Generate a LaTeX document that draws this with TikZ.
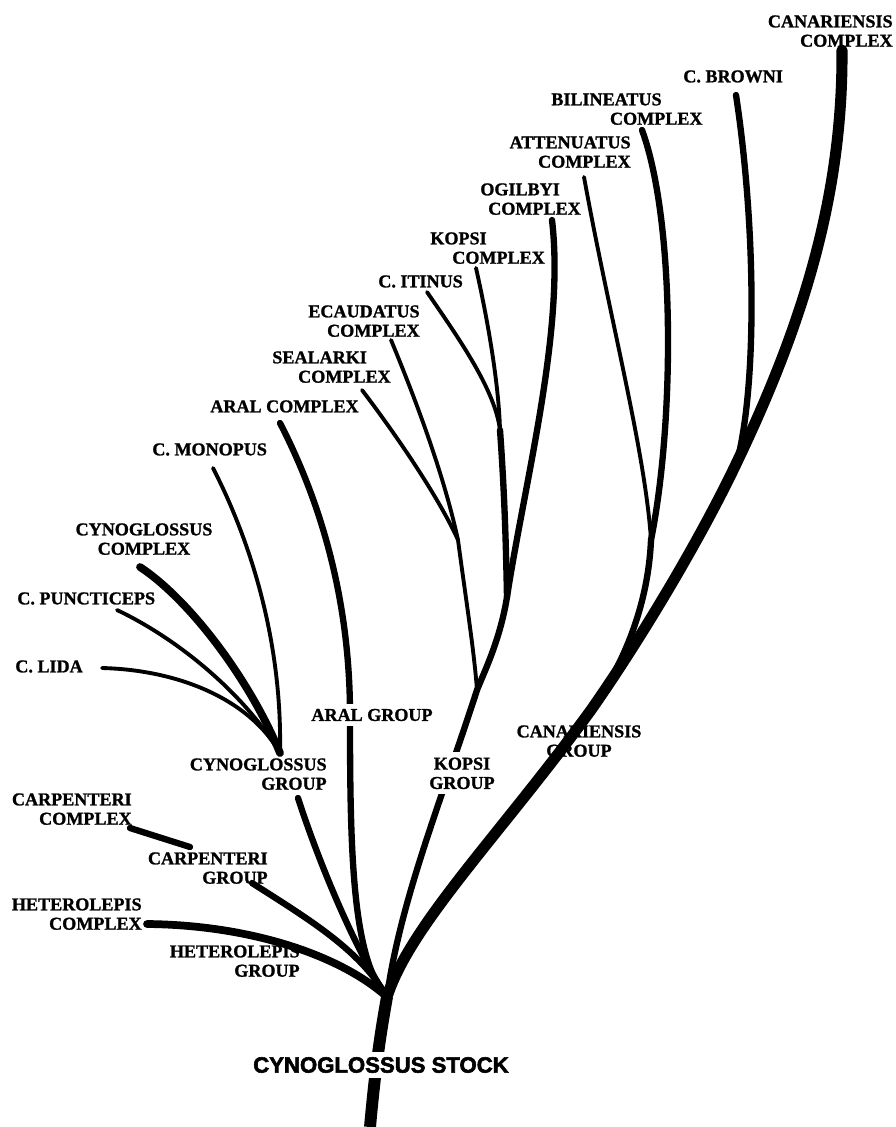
\documentclass[tikz,border=0pt]{standalone}
\usepackage{fontspec}
\setmainfont{Liberation Serif}[BoldFeatures={FakeBold=1.2}]
\newfontfamily\stockfont{Liberation Sans}[BoldFeatures={FakeBold=2.5}]
\usepackage{pgfplots}
\pgfplotsset{compat=default}

\begin{document}
\begin{tikzpicture}[x=0.02cm,y=-0.02cm,
  lab/.style={font=\fontsize{10.3}{11}\selectfont\bfseries,inner sep=0pt},
  stocklab/.style={font=\stockfont\fontsize{12.6}{14}\selectfont\bfseries,fill=white,inner sep=3pt},
  thinbr/.style={line width=2.2pt,line cap=round,line join=round},
  midbr/.style={line width=3.6pt,line cap=round,line join=round},
  thickbr/.style={line width=4.4pt,line cap=round,line join=round},
  heavybr/.style={line width=6.3pt,line cap=round,line join=round},
  trunkbr/.style={line width=6.8pt,line join=round}]
\useasboundingbox (0,0) rectangle (896,1127);
\coordinate (base) at (370,1127);
\coordinate (stem) at (387,997);
\coordinate (cgfork) at (280,753);
\coordinate (kfork) at (477,690);
\coordinate (ogfork) at (507,597);
\coordinate (itfork) at (500,430);
\coordinate (ecfork) at (458,540);
\coordinate (canfork) at (591,710);
\coordinate (brfork) at (737,462);
\coordinate (bafork) at (651,540);
\coordinate (aralmid) at (350,715);
\coordinate (cantip) at (842,50);
\coordinate (brtip) at (736,95);
\coordinate (biltip) at (642,130);
\coordinate (atttip) at (584,177);
\coordinate (ogtip) at (552,220);
\coordinate (kctip) at (476,268);
\coordinate (ittip) at (427,292);
\coordinate (ectip) at (391,340);
\coordinate (setip) at (362,390);
\coordinate (araltip) at (280,423);
\coordinate (montip) at (213,468);
\coordinate (cyctip) at (140,567);
\coordinate (puntip) at (117,610);
\coordinate (lidatip) at (102,668);
\coordinate (cyngtip) at (298,798);
\coordinate (carpctip) at (130,828);
\coordinate (carpcend) at (190,847);
\coordinate (carpgtip) at (252,883);
\coordinate (hetctip) at (147,924);
\draw [trunkbr] (base) .. controls (376,1060) and (382,1025) .. (stem);
\draw [thickbr] (hetctip) .. controls (250,925) and (340,955) .. (stem);
\draw [midbr] (carpctip) -- (carpcend);
\draw [midbr] (carpgtip) .. controls (310,920) and (360,950) .. (stem);
\draw [midbr] (cyngtip) .. controls (318,860) and (355,950) .. (stem);
\draw [midbr] (araltip) .. controls (330,520) and (350,620) .. (aralmid)
  .. controls (350,850) and (352,960) .. (stem);
\draw [thinbr] (montip) .. controls (260,560) and (282,660) .. (cgfork);
\draw [thickbr] (cyctip) .. controls (190,600) and (250,680) .. (cgfork);
\draw [thinbr] (puntip) .. controls (180,640) and (245,695) .. (cgfork);
\draw [thinbr] (lidatip) .. controls (180,670) and (250,700) .. (cgfork);
\draw [thinbr] (ectip) .. controls (420,410) and (445,480) .. (ecfork);
\draw [thinbr] (setip) .. controls (400,440) and (440,500) .. (ecfork);
\draw [thinbr] (ecfork) .. controls (466,600) and (474,650) .. (kfork);
\draw [thinbr] (kctip) .. controls (490,330) and (499,390) .. (itfork);
\draw [thinbr] (ittip) .. controls (460,340) and (495,390) .. (itfork);
\draw [midbr] (itfork) .. controls (505,500) and (506,550) .. (ogfork);
\draw [midbr] (ogtip) .. controls (565,330) and (525,480) .. (ogfork);
\draw [midbr] (ogfork) .. controls (500,640) and (485,670) .. (kfork);
\draw [midbr] (kfork) .. controls (445,790) and (400,900) .. (stem);
\draw [midbr] (biltip) .. controls (675,220) and (675,420) .. (bafork);
\draw [thinbr] (atttip) .. controls (610,320) and (645,450) .. (bafork);
\draw [midbr] (bafork) .. controls (648,610) and (620,670) .. (canfork);
\draw [midbr] (brtip) .. controls (755,220) and (758,380) .. (brfork);
\draw [heavybr] (cantip) .. controls (843,200) and (800,330) .. (brfork)
  .. controls (700,540) and (640,640) .. (canfork)
  .. controls (500,835) and (410,925) .. (stem);
\node (canc) at (893,15) [lab,anchor=north east,align=right] {CANARIENSIS\\COMPLEX};
\node (brow) at (683,70) [lab,anchor=north west] {C. BROWNI};
\node (bilc) at (551,93) [lab,anchor=north west,align=left] {BILINEATUS\\\hspace*{33.4pt}COMPLEX};
\node (attc) at (631,136) [lab,anchor=north east,align=right] {ATTENUATUS\\COMPLEX};
\node (ogic) at (480,183) [lab,anchor=north west,align=left] {OGILBYI\\\hspace*{4.5pt}COMPLEX};
\node (kopc) at (430,232) [lab,anchor=north west,align=left] {KOPSI\\\hspace*{12.5pt}COMPLEX};
\node (itin) at (378,275) [lab,anchor=north west] {C. ITINUS};
\node (ecac) at (420,305) [lab,anchor=north east,align=right] {ECAUDATUS\\COMPLEX};
\node (seac) at (272,351) [lab,anchor=north west,align=left] {SEALARKI\\\hspace*{14.7pt}COMPLEX};
\node (aralc) at (210,400) [lab,anchor=north west] {ARAL COMPLEX};
\node (mono) at (152,443) [lab,anchor=north west] {C. MONOPUS};
\node (cync) at (144,523) [lab,anchor=north,align=center] {CYNOGLOSSUS\\COMPLEX};
\node (punc) at (17,592) [lab,anchor=north west] {C. PUNCTICEPS};
\node (lida) at (15,660) [lab,anchor=north west] {C. LIDA};
\node (aralg) at (372,715) [lab,fill=white,inner sep=3pt] {ARAL GROUP};
\node (cyng) at (327,758) [lab,anchor=north east,align=right] {CYNOGLOSSUS\\GROUP};
\node (kopg) at (462,752) [lab,anchor=north,align=center,fill=white,inner sep=3pt] {KOPSI\\GROUP};
\node (cang) at (579,725) [lab,anchor=north,align=center] {CANARIENSIS\\GROUP};
\node (carc) at (132,793) [lab,anchor=north east,align=right] {CARPENTERI\\COMPLEX};
\node (carg) at (268,852) [lab,anchor=north east,align=right] {CARPENTERI\\GROUP};
\node (hetc) at (142,898) [lab,anchor=north east,align=right] {HETEROLEPIS\\COMPLEX};
\node (hetg) at (300,945) [lab,anchor=north east,align=right] {HETEROLEPIS\\GROUP};
\node (stock) at (381,1065) [stocklab] {CYNOGLOSSUS STOCK};
\end{tikzpicture}
\end{document}
